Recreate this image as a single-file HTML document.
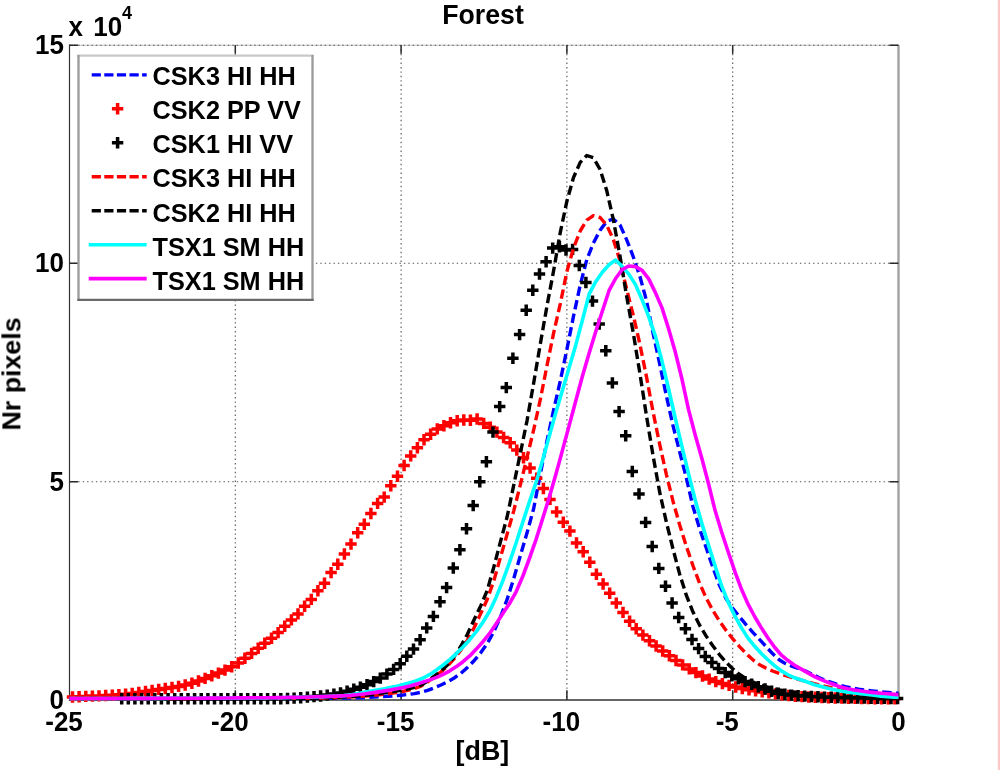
<!DOCTYPE html>
<html lang="en">
<head>
<meta charset="utf-8">
<title>Forest</title>
<style>
html,body{margin:0;padding:0;background:#fff;}
body{width:1000px;height:770px;overflow:hidden;position:relative;}
svg{will-change:transform;filter:blur(0.45px);}
#strip{position:absolute;left:997px;top:0;width:3px;height:770px;background:linear-gradient(to right,#fff6f6 0,#fff6f6 33.3%,#ffc8c8 33.4%,#ffc8c8 100%);}
</style>
</head>
<body>
<svg width="1000" height="770" viewBox="0 0 1000 770" style="position:absolute;left:0;top:0" font-family="'Liberation Sans', sans-serif" font-weight="bold" fill="#000">
<path d="M69.5 45.2H898.5" stroke="#c0c0c0" stroke-width="1.1" fill="none"/>
<g stroke="#505050" stroke-width="1.1" stroke-dasharray="1.4 3" fill="none">
<path d="M235.3 45V700"/>
<path d="M401.1 45V700"/>
<path d="M566.9 45V700"/>
<path d="M732.7 45V700"/>
<path d="M69.5 263.3H898.5"/>
<path d="M69.5 481.7H898.5"/>
<path d="M69.5 45.2H898.5"/>
</g>
<path d="M898.5 45V698" stroke="#a2a2a2" stroke-width="2.4" fill="none"/>
<g stroke="#333" stroke-width="1.2" fill="none">
<path d="M69.5 44.5V700.7"/>
<path d="M69 700.1H899" stroke-width="1.5"/>
</g>
<g stroke="#2a2a2a" stroke-width="1.5" fill="none">
<path d="M235.3 700v-9.8M235.3 45.2v8.6"/>
<path d="M401.1 700v-9.8M401.1 45.2v8.6"/>
<path d="M566.9 700v-9.8M566.9 45.2v8.6"/>
<path d="M732.7 700v-9.8M732.7 45.2v8.6"/>
<path d="M69.5 45.2h8.6M898.5 45.2h-9"/>
<path d="M69.5 263.3h8.6M898.5 263.3h-9"/>
<path d="M69.5 481.7h8.6M898.5 481.7h-9"/>
</g>
<g fill="none" stroke-width="3.4" stroke-linejoin="round">
<path d="M69.5 698.5 L76.1 698.5 L82.8 698.5 L89.4 698.5 L96.0 698.5 L102.7 698.5 L109.3 698.5 L115.9 698.5 L122.6 698.5 L129.2 698.5 L135.8 698.5 L142.5 698.5 L149.1 698.5 L155.7 698.5 L162.3 698.5 L169.0 698.5 L175.6 698.5 L182.2 698.5 L188.9 698.5 L195.5 698.5 L202.1 698.5 L208.8 698.5 L215.4 698.5 L222.0 698.5 L228.7 698.5 L235.3 698.5 L241.9 698.5 L248.6 698.5 L255.2 698.5 L261.8 698.5 L268.5 698.5 L275.1 698.5 L281.7 698.5 L288.4 698.5 L295.0 698.5 L301.6 698.5 L308.3 698.5 L314.9 698.4 L321.5 698.4 L328.1 698.3 L334.8 698.2 L341.4 698.1 L348.0 698.0 L354.7 697.9 L361.3 697.7 L367.9 697.4 L374.6 697.1 L381.2 696.7 L387.8 696.3 L394.5 695.8 L401.1 695.2 L407.7 694.5 L414.4 693.6 L421.0 692.3 L427.6 690.4 L434.3 687.8 L440.9 685.0 L447.5 681.8 L454.2 678.0 L460.8 673.3 L467.4 667.5 L474.1 660.7 L480.7 652.8 L487.3 643.3 L493.9 631.5 L500.6 616.6 L507.2 599.2 L513.8 578.4 L520.5 555.1 L527.1 532.6 L533.7 508.5 L540.4 473.5 L547.0 440.9 L553.6 410.1 L560.3 380.9 L566.9 349.4 L573.5 316.2 L580.2 285.1 L586.8 259.6 L593.4 243.0 L600.1 230.2 L606.7 221.3 L613.3 218.9 L620.0 224.9 L626.6 239.6 L633.2 256.6 L639.9 276.3 L646.5 300.7 L653.1 333.4 L659.7 364.0 L666.4 396.2 L673.0 425.7 L679.6 451.7 L686.3 477.8 L692.9 506.4 L699.5 528.4 L706.2 547.8 L712.8 567.2 L719.4 585.2 L726.1 598.7 L732.7 608.2 L739.3 616.6 L746.0 624.6 L752.6 632.1 L759.2 639.2 L765.9 646.4 L772.5 653.6 L779.1 659.7 L785.8 663.9 L792.4 666.5 L799.0 668.6 L805.7 671.1 L812.3 674.3 L818.9 677.6 L825.5 680.3 L832.2 682.7 L838.8 684.9 L845.4 686.7 L852.1 688.1 L858.7 689.2 L865.3 690.1 L872.0 690.9 L878.6 691.6 L885.2 692.2 L891.9 692.8 L898.5 693.3" stroke="#0000ff" stroke-dasharray="9.4 4.4" stroke-dashoffset="3.80"/>
<path d="M66.8 697.0h11.4M72.5 691.3v11.4M73.4 696.7h11.4M79.1 691.0v11.4M80.1 696.4h11.4M85.8 690.7v11.4M86.7 696.1h11.4M92.4 690.4v11.4M93.3 695.9h11.4M99.0 690.2v11.4M100.0 695.5h11.4M105.7 689.8v11.4M106.6 695.2h11.4M112.3 689.5v11.4M113.2 694.8h11.4M118.9 689.1v11.4M119.9 694.2h11.4M125.6 688.5v11.4M126.5 693.5h11.4M132.2 687.8v11.4M133.1 692.5h11.4M138.8 686.8v11.4M139.8 691.4h11.4M145.5 685.7v11.4M146.4 690.4h11.4M152.1 684.7v11.4M153.0 689.4h11.4M158.7 683.7v11.4M159.6 688.5h11.4M165.3 682.8v11.4M166.3 687.5h11.4M172.0 681.8v11.4M172.9 686.4h11.4M178.6 680.7v11.4M179.5 685.0h11.4M185.2 679.3v11.4M186.2 683.2h11.4M191.9 677.5v11.4M192.8 681.0h11.4M198.5 675.3v11.4M199.4 678.4h11.4M205.1 672.7v11.4M206.1 675.8h11.4M211.8 670.1v11.4M212.7 673.1h11.4M218.4 667.4v11.4M219.3 670.1h11.4M225.0 664.4v11.4M226.0 666.8h11.4M231.7 661.1v11.4M232.6 663.0h11.4M238.3 657.3v11.4M239.2 658.3h11.4M244.9 652.6v11.4M245.9 653.4h11.4M251.6 647.7v11.4M252.5 648.2h11.4M258.2 642.5v11.4M259.1 643.3h11.4M264.8 637.6v11.4M265.8 638.3h11.4M271.5 632.6v11.4M272.4 632.6h11.4M278.1 626.9v11.4M279.0 626.2h11.4M284.7 620.5v11.4M285.7 619.9h11.4M291.4 614.2v11.4M292.3 613.9h11.4M298.0 608.2v11.4M298.9 606.3h11.4M304.6 600.6v11.4M305.6 599.4h11.4M311.3 593.7v11.4M312.2 590.8h11.4M317.9 585.1v11.4M318.8 583.2h11.4M324.5 577.5v11.4M325.4 572.6h11.4M331.1 566.9v11.4M332.1 564.2h11.4M337.8 558.5v11.4M338.7 554.0h11.4M344.4 548.3v11.4M345.3 544.1h11.4M351.0 538.4v11.4M352.0 532.7h11.4M357.7 527.0v11.4M358.6 524.2h11.4M364.3 518.5v11.4M365.2 513.5h11.4M370.9 507.8v11.4M371.9 503.4h11.4M377.6 497.7v11.4M378.5 497.1h11.4M384.2 491.4v11.4M385.1 485.7h11.4M390.8 480.0v11.4M391.8 476.3h11.4M397.5 470.6v11.4M398.4 465.5h11.4M404.1 459.8v11.4M405.0 455.9h11.4M410.7 450.2v11.4M411.7 447.7h11.4M417.4 442.0v11.4M418.3 439.8h11.4M424.0 434.1v11.4M424.9 434.3h11.4M430.6 428.6v11.4M431.6 428.9h11.4M437.3 423.2v11.4M438.2 425.7h11.4M443.9 420.0v11.4M444.8 422.8h11.4M450.5 417.1v11.4M451.5 420.8h11.4M457.2 415.1v11.4M458.1 420.0h11.4M463.8 414.3v11.4M464.7 420.3h11.4M470.4 414.6v11.4M471.4 419.0h11.4M477.1 413.3v11.4M478.0 423.4h11.4M483.7 417.7v11.4M484.6 427.3h11.4M490.3 421.6v11.4M491.2 432.1h11.4M496.9 426.4v11.4M497.9 437.5h11.4M503.6 431.8v11.4M504.5 442.7h11.4M510.2 437.0v11.4M511.1 450.1h11.4M516.8 444.4v11.4M517.8 457.8h11.4M523.5 452.1v11.4M524.4 468.1h11.4M530.1 462.4v11.4M531.0 478.3h11.4M536.7 472.6v11.4M537.7 488.5h11.4M543.4 482.8v11.4M544.3 499.4h11.4M550.0 493.7v11.4M550.9 511.9h11.4M556.6 506.2v11.4M557.6 522.3h11.4M563.3 516.6v11.4M564.2 531.1h11.4M569.9 525.4v11.4M570.8 542.9h11.4M576.5 537.2v11.4M577.5 551.7h11.4M583.2 546.0v11.4M584.1 562.2h11.4M589.8 556.5v11.4M590.7 574.3h11.4M596.4 568.6v11.4M597.4 584.0h11.4M603.1 578.3v11.4M604.0 593.3h11.4M609.7 587.6v11.4M610.6 603.1h11.4M616.3 597.4v11.4M617.3 612.4h11.4M623.0 606.7v11.4M623.9 621.3h11.4M629.6 615.6v11.4M630.5 628.8h11.4M636.2 623.1v11.4M637.2 635.1h11.4M642.9 629.4v11.4M643.8 640.7h11.4M649.5 635.0v11.4M650.4 646.0h11.4M656.1 640.3v11.4M657.0 651.0h11.4M662.7 645.3v11.4M663.7 655.7h11.4M669.4 650.0v11.4M670.3 660.5h11.4M676.0 654.8v11.4M676.9 664.9h11.4M682.6 659.2v11.4M683.6 668.9h11.4M689.3 663.2v11.4M690.2 672.6h11.4M695.9 666.9v11.4M696.8 676.0h11.4M702.5 670.3v11.4M703.5 679.1h11.4M709.2 673.4v11.4M710.1 681.6h11.4M715.8 675.9v11.4M716.7 683.6h11.4M722.4 677.9v11.4M723.4 685.4h11.4M729.1 679.7v11.4M730.0 687.0h11.4M735.7 681.3v11.4M736.6 688.5h11.4M742.3 682.8v11.4M743.3 689.7h11.4M749.0 684.0v11.4M749.9 690.8h11.4M755.6 685.1v11.4M756.5 691.9h11.4M762.2 686.2v11.4M763.2 692.9h11.4M768.9 687.2v11.4M769.8 693.9h11.4M775.5 688.2v11.4M776.4 694.8h11.4M782.1 689.1v11.4M783.1 695.5h11.4M788.8 689.8v11.4M789.7 696.2h11.4M795.4 690.5v11.4M796.3 696.6h11.4M802.0 690.9v11.4M803.0 697.0h11.4M808.7 691.3v11.4M809.6 697.3h11.4M815.3 691.6v11.4M816.2 697.5h11.4M821.9 691.8v11.4M822.8 697.8h11.4M828.5 692.1v11.4M829.5 698.0h11.4M835.2 692.3v11.4M836.1 698.1h11.4M841.8 692.4v11.4M842.7 698.3h11.4M848.4 692.6v11.4M849.4 698.4h11.4M855.1 692.7v11.4M856.0 698.5h11.4M861.7 692.8v11.4M862.6 698.6h11.4M868.3 692.9v11.4M869.3 698.7h11.4M875.0 693.0v11.4M875.9 698.7h11.4M881.6 693.0v11.4M882.5 698.8h11.4M888.2 693.1v11.4M889.2 698.8h11.4M894.9 693.1v11.4" stroke="#ff0000" stroke-width="3.5"/>
<path d="M116.0 698.8h11.4M121.7 693.1v11.4M122.6 698.8h11.4M128.3 693.1v11.4M129.2 698.8h11.4M134.9 693.1v11.4M135.9 698.8h11.4M141.6 693.1v11.4M142.5 698.8h11.4M148.2 693.1v11.4M149.1 698.8h11.4M154.8 693.1v11.4M155.7 698.8h11.4M161.4 693.1v11.4M162.4 698.8h11.4M168.1 693.1v11.4M169.0 698.8h11.4M174.7 693.1v11.4M175.6 698.8h11.4M181.3 693.1v11.4M182.3 698.8h11.4M188.0 693.1v11.4M188.9 698.8h11.4M194.6 693.1v11.4M195.5 698.8h11.4M201.2 693.1v11.4M202.2 698.8h11.4M207.9 693.1v11.4M208.8 698.8h11.4M214.5 693.1v11.4M215.4 698.8h11.4M221.1 693.1v11.4M222.1 698.8h11.4M227.8 693.1v11.4M228.7 698.8h11.4M234.4 693.1v11.4M235.3 698.7h11.4M241.0 693.0v11.4M242.0 698.7h11.4M247.7 693.0v11.4M248.6 698.7h11.4M254.3 693.0v11.4M255.2 698.7h11.4M260.9 693.0v11.4M261.9 698.7h11.4M267.6 693.0v11.4M268.5 698.7h11.4M274.2 693.0v11.4M275.1 698.7h11.4M280.8 693.0v11.4M281.8 698.5h11.4M287.5 692.8v11.4M288.4 698.1h11.4M294.1 692.4v11.4M295.0 697.7h11.4M300.7 692.0v11.4M301.7 697.1h11.4M307.4 691.4v11.4M308.3 696.6h11.4M314.0 690.9v11.4M314.9 696.0h11.4M320.6 690.3v11.4M321.5 695.1h11.4M327.2 689.4v11.4M328.2 694.1h11.4M333.9 688.4v11.4M334.8 692.9h11.4M340.5 687.2v11.4M341.4 691.2h11.4M347.1 685.5v11.4M348.1 689.3h11.4M353.8 683.6v11.4M354.7 687.2h11.4M360.4 681.5v11.4M361.3 684.7h11.4M367.0 679.0v11.4M368.0 681.6h11.4M373.7 675.9v11.4M374.6 678.1h11.4M380.3 672.4v11.4M381.2 674.1h11.4M386.9 668.4v11.4M387.9 669.4h11.4M393.6 663.7v11.4M394.5 663.8h11.4M400.2 658.1v11.4M401.1 656.3h11.4M406.8 650.6v11.4M407.8 649.1h11.4M413.5 643.4v11.4M414.4 639.8h11.4M420.1 634.1v11.4M421.0 627.9h11.4M426.7 622.2v11.4M427.7 616.4h11.4M433.4 610.7v11.4M434.3 601.8h11.4M440.0 596.1v11.4M440.9 587.6h11.4M446.6 581.9v11.4M447.6 568.0h11.4M453.3 562.3v11.4M454.2 549.7h11.4M459.9 544.0v11.4M460.8 528.7h11.4M466.5 523.0v11.4M467.5 505.6h11.4M473.2 499.9v11.4M474.1 481.8h11.4M479.8 476.1v11.4M480.7 461.7h11.4M486.4 456.0v11.4M487.3 432.1h11.4M493.0 426.4v11.4M494.0 406.6h11.4M499.7 400.9v11.4M500.6 387.6h11.4M506.3 381.9v11.4M507.2 358.2h11.4M512.9 352.5v11.4M513.9 334.6h11.4M519.6 328.9v11.4M520.5 310.2h11.4M526.2 304.5v11.4M527.1 290.3h11.4M532.8 284.6v11.4M533.8 274.0h11.4M539.5 268.3v11.4M540.4 261.8h11.4M546.1 256.1v11.4M547.0 248.1h11.4M552.7 242.4v11.4M553.7 246.7h11.4M559.4 241.0v11.4M560.3 250.0h11.4M566.0 244.3v11.4M566.9 249.4h11.4M572.6 243.7v11.4M573.6 265.5h11.4M579.3 259.8v11.4M580.2 282.5h11.4M585.9 276.8v11.4M586.8 301.1h11.4M592.5 295.4v11.4M593.5 324.1h11.4M599.2 318.4v11.4M600.1 350.7h11.4M605.8 345.0v11.4M606.7 382.9h11.4M612.4 377.2v11.4M613.4 411.6h11.4M619.1 405.9v11.4M620.0 435.8h11.4M625.7 430.1v11.4M626.6 471.5h11.4M632.3 465.8v11.4M633.3 493.9h11.4M639.0 488.2v11.4M639.9 522.4h11.4M645.6 516.7v11.4M646.5 546.5h11.4M652.2 540.8v11.4M653.1 568.4h11.4M658.8 562.7v11.4M659.8 586.2h11.4M665.5 580.5v11.4M666.4 603.0h11.4M672.1 597.3v11.4M673.0 617.5h11.4M678.7 611.8v11.4M679.7 628.7h11.4M685.4 623.0v11.4M686.3 639.5h11.4M692.0 633.8v11.4M692.9 648.6h11.4M698.6 642.9v11.4M699.6 656.5h11.4M705.3 650.8v11.4M706.2 662.5h11.4M711.9 656.8v11.4M712.8 668.4h11.4M718.5 662.7v11.4M719.5 672.6h11.4M725.2 666.9v11.4M726.1 675.9h11.4M731.8 670.2v11.4M732.7 678.8h11.4M738.4 673.1v11.4M739.4 681.6h11.4M745.1 675.9v11.4M746.0 684.2h11.4M751.7 678.5v11.4M752.6 686.7h11.4M758.3 681.0v11.4M759.3 689.0h11.4M765.0 683.3v11.4M765.9 691.3h11.4M771.6 685.6v11.4M772.5 693.2h11.4M778.2 687.5v11.4M779.2 694.3h11.4M784.9 688.6v11.4M785.8 695.1h11.4M791.5 689.4v11.4M792.4 695.7h11.4M798.1 690.0v11.4M799.1 696.1h11.4M804.8 690.4v11.4M805.7 696.5h11.4M811.4 690.8v11.4M812.3 696.8h11.4M818.0 691.1v11.4M818.9 697.1h11.4M824.6 691.4v11.4M825.6 697.3h11.4M831.3 691.6v11.4M832.2 697.5h11.4M837.9 691.8v11.4M838.8 697.7h11.4M844.5 692.0v11.4M845.5 697.8h11.4M851.2 692.1v11.4M852.1 698.0h11.4M857.8 692.3v11.4M858.7 698.1h11.4M864.4 692.4v11.4M865.4 698.2h11.4M871.1 692.5v11.4M872.0 698.3h11.4M877.7 692.6v11.4M878.6 698.4h11.4M884.3 692.7v11.4M885.3 698.5h11.4M891.0 692.8v11.4M891.9 698.5h11.4M897.6 692.8v11.4" stroke="#000" stroke-width="3.5"/>
<path d="M69.5 698.5 L76.1 698.5 L82.8 698.5 L89.4 698.5 L96.0 698.5 L102.7 698.5 L109.3 698.5 L115.9 698.5 L122.6 698.5 L129.2 698.5 L135.8 698.5 L142.5 698.5 L149.1 698.5 L155.7 698.5 L162.3 698.5 L169.0 698.5 L175.6 698.5 L182.2 698.5 L188.9 698.5 L195.5 698.5 L202.1 698.4 L208.8 698.4 L215.4 698.4 L222.0 698.4 L228.7 698.4 L235.3 698.4 L241.9 698.4 L248.6 698.4 L255.2 698.4 L261.8 698.4 L268.5 698.4 L275.1 698.3 L281.7 698.3 L288.4 698.3 L295.0 698.3 L301.6 698.3 L308.3 698.2 L314.9 698.1 L321.5 698.0 L328.1 697.8 L334.8 697.6 L341.4 697.3 L348.0 697.1 L354.7 696.8 L361.3 696.4 L367.9 695.9 L374.6 695.3 L381.2 694.6 L387.8 693.7 L394.5 692.8 L401.1 691.8 L407.7 690.4 L414.4 688.5 L421.0 686.1 L427.6 682.0 L434.3 677.1 L440.9 672.0 L447.5 666.0 L454.2 658.7 L460.8 650.1 L467.4 640.1 L474.1 627.7 L480.7 613.6 L487.3 599.2 L493.9 580.5 L500.6 556.9 L507.2 533.9 L513.8 510.6 L520.5 484.1 L527.1 457.1 L533.7 429.7 L540.4 399.1 L547.0 365.5 L553.6 333.2 L560.3 303.8 L566.9 271.5 L573.5 248.2 L580.2 231.0 L586.8 220.1 L593.4 215.6 L600.1 217.5 L606.7 225.2 L613.3 239.3 L620.0 260.7 L626.6 288.9 L633.2 315.0 L639.9 344.3 L646.5 376.9 L653.1 412.1 L659.7 444.4 L666.4 474.6 L673.0 501.2 L679.6 524.7 L686.3 546.1 L692.9 565.5 L699.5 583.1 L706.2 598.0 L712.8 610.4 L719.4 621.0 L726.1 630.4 L732.7 638.8 L739.3 646.3 L746.0 653.4 L752.6 659.6 L759.2 664.5 L765.9 668.1 L772.5 671.0 L779.1 673.4 L785.8 675.7 L792.4 677.6 L799.0 679.5 L805.7 681.3 L812.3 683.1 L818.9 684.8 L825.5 686.4 L832.2 688.0 L838.8 689.4 L845.4 690.7 L852.1 691.8 L858.7 692.9 L865.3 693.8 L872.0 694.7 L878.6 695.6 L885.2 696.3 L891.9 697.0 L898.5 697.5" stroke="#ff0000" stroke-dasharray="9.4 4.4" stroke-dashoffset="12.68"/>
<path d="M69.5 698.5 L76.1 698.5 L82.8 698.5 L89.4 698.5 L96.0 698.5 L102.7 698.5 L109.3 698.5 L115.9 698.5 L122.6 698.5 L129.2 698.5 L135.8 698.5 L142.5 698.5 L149.1 698.5 L155.7 698.5 L162.3 698.5 L169.0 698.5 L175.6 698.5 L182.2 698.5 L188.9 698.5 L195.5 698.5 L202.1 698.4 L208.8 698.4 L215.4 698.4 L222.0 698.4 L228.7 698.4 L235.3 698.4 L241.9 698.4 L248.6 698.4 L255.2 698.4 L261.8 698.4 L268.5 698.4 L275.1 698.3 L281.7 698.3 L288.4 698.3 L295.0 698.3 L301.6 698.3 L308.3 698.2 L314.9 698.1 L321.5 697.9 L328.1 697.6 L334.8 697.3 L341.4 697.0 L348.0 696.6 L354.7 696.2 L361.3 695.7 L367.9 695.0 L374.6 694.3 L381.2 693.4 L387.8 692.4 L394.5 691.4 L401.1 690.3 L407.7 689.1 L414.4 687.4 L421.0 685.2 L427.6 681.1 L434.3 676.2 L440.9 671.2 L447.5 665.0 L454.2 656.6 L460.8 646.2 L467.4 634.2 L474.1 619.8 L480.7 605.9 L487.3 590.2 L493.9 566.7 L500.6 541.2 L507.2 516.5 L513.8 484.8 L520.5 452.5 L527.1 420.3 L533.7 382.9 L540.4 343.5 L547.0 305.8 L553.6 270.8 L560.3 232.3 L566.9 201.2 L573.5 177.5 L580.2 162.4 L586.8 155.5 L593.4 157.8 L600.1 169.5 L606.7 190.4 L613.3 219.5 L620.0 256.0 L626.6 296.0 L633.2 332.6 L639.9 373.4 L646.5 416.0 L653.1 456.0 L659.7 492.2 L666.4 522.3 L673.0 549.0 L679.6 573.9 L686.3 595.2 L692.9 611.8 L699.5 625.0 L706.2 636.1 L712.8 645.8 L719.4 654.6 L726.1 662.3 L732.7 668.7 L739.3 674.3 L746.0 678.5 L752.6 681.9 L759.2 684.7 L765.9 686.7 L772.5 688.4 L779.1 689.8 L785.8 691.0 L792.4 692.0 L799.0 692.9 L805.7 693.6 L812.3 694.3 L818.9 694.9 L825.5 695.4 L832.2 695.9 L838.8 696.3 L845.4 696.6 L852.1 696.9 L858.7 697.1 L865.3 697.4 L872.0 697.6 L878.6 697.7 L885.2 697.9 L891.9 698.0 L898.5 698.0" stroke="#000" stroke-dasharray="9.4 4.4" stroke-dashoffset="8.20"/>
<path d="M69.5 698.5 L71.8 698.5 L78.4 698.5 L85.0 698.5 L91.7 698.5 L98.3 698.5 L104.9 698.5 L111.6 698.5 L118.2 698.5 L124.8 698.5 L131.4 698.4 L138.1 698.4 L144.7 698.4 L151.3 698.4 L158.0 698.4 L164.6 698.4 L171.2 698.3 L177.9 698.3 L184.5 698.3 L191.1 698.3 L197.8 698.2 L204.4 698.2 L211.0 698.2 L217.7 698.2 L224.3 698.1 L230.9 698.1 L237.6 698.1 L244.2 698.0 L250.8 698.0 L257.5 697.9 L264.1 697.9 L270.7 697.8 L277.4 697.7 L284.0 697.6 L290.6 697.5 L297.2 697.4 L303.9 697.2 L310.5 697.1 L317.1 696.9 L323.8 696.6 L330.4 696.3 L337.0 696.0 L343.7 695.6 L350.3 694.9 L356.9 693.7 L363.6 692.4 L370.2 691.3 L376.8 690.1 L383.5 688.9 L390.1 687.6 L396.7 686.2 L403.4 684.6 L410.0 682.8 L416.6 680.7 L423.3 678.0 L429.9 674.4 L436.5 669.9 L443.2 665.0 L449.8 659.6 L456.4 653.6 L463.0 647.0 L469.7 639.7 L476.3 631.6 L482.9 622.3 L489.6 611.3 L496.2 597.2 L502.8 580.8 L509.5 562.3 L516.1 543.0 L522.7 522.4 L529.4 501.9 L536.0 482.7 L542.6 460.3 L549.3 436.1 L555.9 412.3 L562.5 389.9 L569.2 367.4 L575.8 344.9 L582.4 320.3 L589.1 294.2 L595.7 281.7 L602.3 272.3 L609.0 264.8 L615.6 260.0 L622.2 266.6 L628.8 274.1 L635.5 284.6 L642.1 299.7 L648.7 316.7 L655.4 336.1 L662.0 361.1 L668.6 389.0 L675.3 418.4 L681.9 446.4 L688.5 473.6 L695.2 499.9 L701.8 523.3 L708.4 544.9 L715.1 566.1 L721.7 586.1 L728.3 602.5 L735.0 616.1 L741.6 628.1 L748.2 638.4 L754.9 646.6 L761.5 653.7 L768.1 660.0 L774.8 665.9 L781.4 670.9 L788.0 674.8 L794.6 677.8 L801.3 680.0 L807.9 682.3 L814.5 684.7 L821.2 686.6 L827.8 688.3 L834.4 689.7 L841.1 691.0 L847.7 692.1 L854.3 693.0 L861.0 693.7 L867.6 694.4 L874.2 695.3 L880.9 696.1 L887.5 696.6 L894.1 697.1 L898.5 697.3" stroke="#00ffff" stroke-width="3.6"/>
<path d="M69.5 698.5 L71.8 698.5 L78.4 698.5 L85.0 698.5 L91.7 698.5 L98.3 698.5 L104.9 698.5 L111.6 698.5 L118.2 698.5 L124.8 698.4 L131.4 698.4 L138.1 698.4 L144.7 698.4 L151.3 698.4 L158.0 698.3 L164.6 698.3 L171.2 698.3 L177.9 698.3 L184.5 698.2 L191.1 698.2 L197.8 698.2 L204.4 698.1 L211.0 698.1 L217.7 698.1 L224.3 698.0 L230.9 698.0 L237.6 697.9 L244.2 697.9 L250.8 697.8 L257.5 697.8 L264.1 697.7 L270.7 697.7 L277.4 697.6 L284.0 697.5 L290.6 697.4 L297.2 697.3 L303.9 697.2 L310.5 697.0 L317.1 696.8 L323.8 696.6 L330.4 696.4 L337.0 696.1 L343.7 695.8 L350.3 695.4 L356.9 694.8 L363.6 694.0 L370.2 693.1 L376.8 692.1 L383.5 691.1 L390.1 690.0 L396.7 688.8 L403.4 687.4 L410.0 685.9 L416.6 684.1 L423.3 682.0 L429.9 679.9 L436.5 677.4 L443.2 674.3 L449.8 670.8 L456.4 666.6 L463.0 661.7 L469.7 655.9 L476.3 649.1 L482.9 641.7 L489.6 633.4 L496.2 623.7 L502.8 613.6 L509.5 603.5 L516.1 591.8 L522.7 576.5 L529.4 558.5 L536.0 539.6 L542.6 518.8 L549.3 497.2 L555.9 474.3 L562.5 450.1 L569.2 425.4 L575.8 400.8 L582.4 376.2 L589.1 353.3 L595.7 331.7 L602.3 311.2 L609.0 290.7 L615.6 278.5 L622.2 269.6 L628.8 266.0 L635.5 266.6 L642.1 270.4 L648.7 278.9 L655.4 292.6 L662.0 307.9 L668.6 328.7 L675.3 352.1 L681.9 378.8 L688.5 409.4 L695.2 435.0 L701.8 458.3 L708.4 483.3 L715.1 510.6 L721.7 532.3 L728.3 552.3 L735.0 571.9 L741.6 589.6 L748.2 604.4 L754.9 617.0 L761.5 628.1 L768.1 638.2 L774.8 647.5 L781.4 655.1 L788.0 660.6 L794.6 665.2 L801.3 669.1 L807.9 672.9 L814.5 676.6 L821.2 679.7 L827.8 682.3 L834.4 684.8 L841.1 687.1 L847.7 688.7 L854.3 689.9 L861.0 691.0 L867.6 691.9 L874.2 692.6 L880.9 693.2 L887.5 693.8 L894.1 694.4 L898.5 694.8" stroke="#ff00ff" stroke-width="3.6"/>
</g>
<rect x="78.5" y="55.6" width="234" height="244.2" fill="#fff"/>
<path d="M77.4 55.6H313.6" stroke="#c8c8c8" stroke-width="2.3" fill="none"/>
<path d="M78.5 55V300.8" stroke="#9a9a9a" stroke-width="2.3" fill="none"/>
<path d="M312.5 55V300.8" stroke="#9a9a9a" stroke-width="2.3" fill="none"/>
<path d="M77.4 299.85H313.6" stroke="#6a6a6a" stroke-width="2.1" fill="none"/>
<path d="M91.7 74.9H146.7" stroke="#0000ff" stroke-width="3.4" stroke-dasharray="9.2 3.4" fill="none"/>
<path d="M111.9 108.8h11.4M117.6 103.1v11.4" stroke="#ff0000" stroke-width="3.5" fill="none"/>
<path d="M111.9 142.7h11.4M117.6 137.0v11.4" stroke="#000" stroke-width="3.5" fill="none"/>
<path d="M91.7 176.8H146.7" stroke="#ff0000" stroke-width="3.4" stroke-dasharray="9.2 3.4" fill="none"/>
<path d="M91.7 210.7H146.7" stroke="#000" stroke-width="3.4" stroke-dasharray="9.2 3.4" fill="none"/>
<path d="M88.7 244.8H146.7" stroke="#00ffff" stroke-width="3.6" fill="none"/>
<path d="M88.7 278.6H146.7" stroke="#ff00ff" stroke-width="3.6" fill="none"/>
<text transform="translate(152.5 85.3) scale(1 1.027)" font-size="25.3">CSK3 HI HH</text>
<text transform="translate(152.5 119.3) scale(1 1.027)" font-size="25.3">CSK2 PP VV</text>
<text transform="translate(152.5 153.4) scale(1 1.027)" font-size="25.3">CSK1 HI VV</text>
<text transform="translate(152.5 187.4) scale(1 1.027)" font-size="25.3">CSK3 HI HH</text>
<text transform="translate(152.5 221.5) scale(1 1.027)" font-size="25.3">CSK2 HI HH</text>
<text transform="translate(152.5 255.6) scale(1 1.027)" font-size="25.3">TSX1 SM HH</text>
<text transform="translate(152.5 289.6) scale(1 1.027)" font-size="25.3">TSX1 SM HH</text>
<text transform="translate(64.0 731.2) scale(1 1.027)" font-size="26" text-anchor="middle">-25</text>
<text transform="translate(229.8 731.2) scale(1 1.027)" font-size="26" text-anchor="middle">-20</text>
<text transform="translate(395.6 731.2) scale(1 1.027)" font-size="26" text-anchor="middle">-15</text>
<text transform="translate(561.4 731.2) scale(1 1.027)" font-size="26" text-anchor="middle">-10</text>
<text transform="translate(727.2 731.2) scale(1 1.027)" font-size="26" text-anchor="middle">-5</text>
<text transform="translate(898.5 731.2) scale(1 1.027)" font-size="26" text-anchor="middle">0</text>
<text transform="translate(64.0 708.6) scale(1 1.027)" font-size="26" text-anchor="end">0</text>
<text transform="translate(64.0 490.6) scale(1 1.027)" font-size="26" text-anchor="end">5</text>
<text transform="translate(64.0 272.2) scale(1 1.027)" font-size="26" text-anchor="end">10</text>
<text transform="translate(64.0 54.2) scale(1 1.027)" font-size="26" text-anchor="end">15</text>
<text transform="translate(68.5 36.0) scale(1 1.027)" font-size="26">x</text>
<text transform="translate(93.2 36.0) scale(1 1.027)" font-size="26">10</text>
<text transform="translate(122.0 18.6) scale(1 1.027)" font-size="18">4</text>
<text transform="translate(483.0 24.0) scale(1 1.027)" font-size="26.7" text-anchor="middle">Forest</text>
<text transform="translate(482.4 760.0) scale(1 1.027)" font-size="26.9" text-anchor="middle">[dB]</text>
<text transform="translate(20.4 374) scale(1 1.027) rotate(-90)" font-size="26.1" text-anchor="middle">Nr pixels</text>
</svg>
<div id="strip"></div>
</body>
</html>
